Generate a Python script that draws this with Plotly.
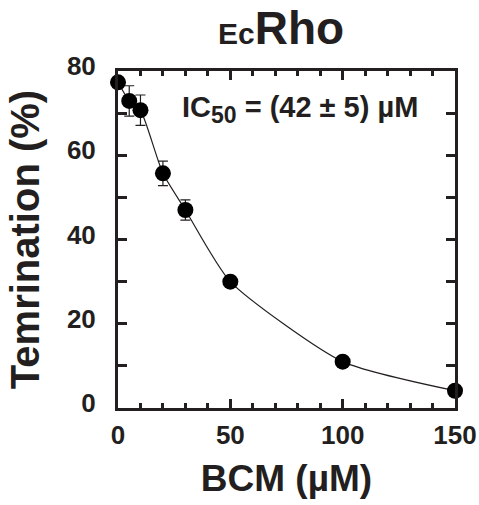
import plotly.graph_objects as go

bcm = [0, 5, 10, 20, 30, 50, 100, 150]
terminacion = [77.3, 72.9, 70.7, 55.7, 47.0, 30.0, 11.0, 4.1]
error = [0, 3.6, 3.6, 2.9, 2.4, 1.0, 0.8, 0.6]

negro = "#231f20"
fuente = "Arial, Liberation Sans, sans-serif"

fig = go.Figure()

# curva ajustada (suavizada a traves de los puntos)
fig.add_trace(go.Scatter(
    x=bcm, y=terminacion,
    mode="lines",
    line=dict(color=negro, width=1.2, shape="spline", smoothing=0.6),
    hoverinfo="skip",
    cliponaxis=False
))

fig.add_trace(go.Scatter(
    x=bcm, y=terminacion,
    mode="markers",
    marker=dict(color="black", size=16),
    error_y=dict(type="data", array=error, color=negro, thickness=1.2, width=5),
    cliponaxis=False
))

eje = dict(
    showline=True, linewidth=3, linecolor=negro,
    mirror="ticks", ticks="inside", tickcolor=negro, tickwidth=2.5,
    showgrid=False, zeroline=False, automargin=False,
    tickfont=dict(family=fuente, size=26, color=negro, weight="bold"),
)

fig.update_xaxes(
    **eje,
    range=[0, 150], tickvals=[0, 50, 100, 150], ticklen=9,
    minor=dict(dtick=10, ticks="inside", ticklen=5, tickcolor=negro, tickwidth=2.5),
    ticklabelstandoff=2,
    title=dict(text="BCM (µM)", font=dict(family=fuente, size=37, color=negro, weight="bold"), standoff=16),
)
fig.update_yaxes(
    **eje,
    range=[0, 80], tickvals=[0, 20, 40, 60, 80], ticklen=9,
    minor=dict(dtick=10, ticks="inside", ticklen=9, tickcolor=negro, tickwidth=2.5),
    ticklabelstandoff=14, ticklabelshift=-5,
    title=dict(text="Temrination (%)", font=dict(family=fuente, size=40, color=negro, weight="bold"), standoff=15),
)

fig.update_layout(
    width=479, height=505,
    margin=dict(l=118, r=24, t=71, b=97),
    plot_bgcolor="white", paper_bgcolor="white",
    showlegend=False,
    annotations=[
        dict(
            text="<span style='font-size:30px'>Ec</span>Rho",
            xref="paper", yref="paper", x=(281 - 118) / 337, y=(408 - 28) / 337,
            xanchor="center", yanchor="middle", showarrow=False,
            font=dict(family=fuente, size=46, color=negro, weight="bold"),
        ),
        dict(
            text="IC<sub><span style='font-size:23px'>50</span></sub> = (42 ± 5) µM",
            xref="x", yref="y", x=81.2, y=70.8,
            xanchor="center", yanchor="middle", showarrow=False,
            font=dict(family=fuente, size=29, color=negro, weight="bold"),
        ),
    ],
)

# la pagina no debe tener margen alrededor de la figura
fig.write_html("out.html", config={"displayModeBar": False},
               post_script="document.body.style.margin='0px';")
